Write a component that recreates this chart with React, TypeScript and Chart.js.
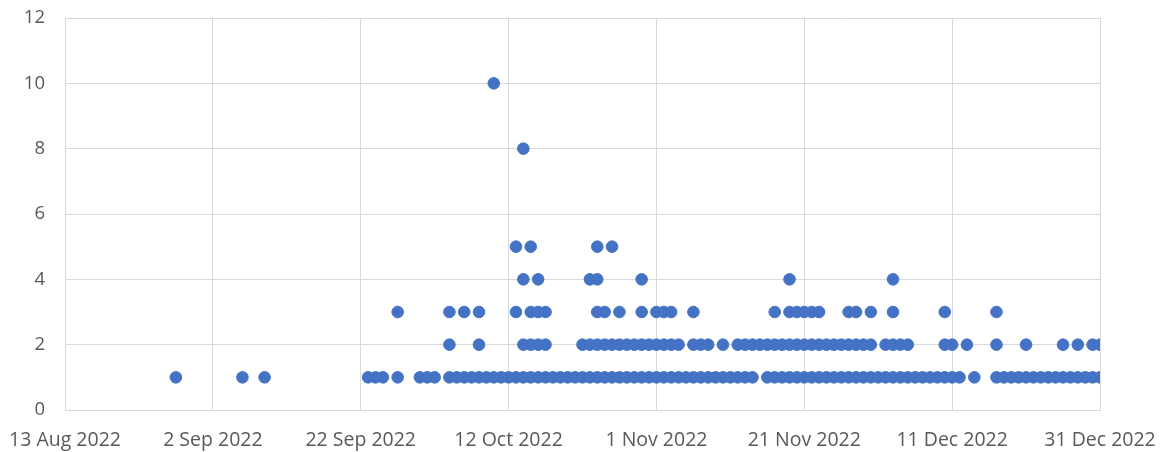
import React, { useEffect, useRef } from "react";
import { Chart, registerables } from "chart.js";

Chart.register(...registerables);

// Axis settings (dates)
const axisStart = "2022-08-13";
const axisEnd = "2022-12-31";
const xTickStepDays = 20;
const yMin = 0;
const yMax = 12;
const yStep = 2;
const monthNames = ["Jan", "Feb", "Mar", "Apr", "May", "Jun", "Jul", "Aug", "Sep", "Oct", "Nov", "Dec"];

// Dates that have a point at each value
const datesValue1 = [
  "2022-08-28", "2022-09-06", "2022-09-09", "2022-09-23", "2022-09-24", "2022-09-25", "2022-09-27",
  "2022-09-30", "2022-10-01", "2022-10-02",
  "2022-10-04", "2022-10-05", "2022-10-06", "2022-10-07", "2022-10-08", "2022-10-09", "2022-10-10",
  "2022-10-11", "2022-10-12", "2022-10-13", "2022-10-14", "2022-10-15", "2022-10-16", "2022-10-17",
  "2022-10-18", "2022-10-19", "2022-10-20", "2022-10-21", "2022-10-22", "2022-10-23", "2022-10-24",
  "2022-10-25", "2022-10-26", "2022-10-27", "2022-10-28", "2022-10-29", "2022-10-30", "2022-10-31",
  "2022-11-01", "2022-11-02", "2022-11-03", "2022-11-04", "2022-11-05", "2022-11-06", "2022-11-07",
  "2022-11-08", "2022-11-09", "2022-11-10", "2022-11-11", "2022-11-12", "2022-11-13", "2022-11-14",
  "2022-11-16", "2022-11-17", "2022-11-18", "2022-11-19", "2022-11-20", "2022-11-21", "2022-11-22",
  "2022-11-23", "2022-11-24", "2022-11-25", "2022-11-26", "2022-11-27", "2022-11-28", "2022-11-29",
  "2022-11-30", "2022-12-01", "2022-12-02", "2022-12-03", "2022-12-04", "2022-12-05", "2022-12-06",
  "2022-12-07", "2022-12-08", "2022-12-09", "2022-12-10", "2022-12-11", "2022-12-12", "2022-12-14",
  "2022-12-17", "2022-12-18", "2022-12-19", "2022-12-20", "2022-12-21", "2022-12-22", "2022-12-23",
  "2022-12-24", "2022-12-25", "2022-12-26", "2022-12-27", "2022-12-28", "2022-12-29", "2022-12-30",
  "2022-12-31",
];

const datesValue2 = [
  "2022-10-04", "2022-10-08", "2022-10-14", "2022-10-15", "2022-10-16", "2022-10-17",
  "2022-10-22", "2022-10-23", "2022-10-24", "2022-10-25", "2022-10-26", "2022-10-27", "2022-10-28",
  "2022-10-29", "2022-10-30", "2022-10-31", "2022-11-01", "2022-11-02", "2022-11-03", "2022-11-04",
  "2022-11-06", "2022-11-07", "2022-11-08", "2022-11-10",
  "2022-11-12", "2022-11-13", "2022-11-14", "2022-11-15", "2022-11-16", "2022-11-17", "2022-11-18",
  "2022-11-19", "2022-11-20", "2022-11-21", "2022-11-22", "2022-11-23", "2022-11-24", "2022-11-25",
  "2022-11-26", "2022-11-27", "2022-11-28", "2022-11-29", "2022-11-30",
  "2022-12-02", "2022-12-03", "2022-12-04", "2022-12-05", "2022-12-10", "2022-12-11", "2022-12-13",
  "2022-12-17", "2022-12-21", "2022-12-26", "2022-12-28", "2022-12-30", "2022-12-31",
];

const datesValue3 = [
  "2022-09-27", "2022-10-04", "2022-10-06", "2022-10-08", "2022-10-13", "2022-10-15", "2022-10-16",
  "2022-10-17", "2022-10-24", "2022-10-25", "2022-10-27", "2022-10-30", "2022-11-01", "2022-11-02",
  "2022-11-03", "2022-11-06", "2022-11-17", "2022-11-19", "2022-11-20", "2022-11-21", "2022-11-22",
  "2022-11-23", "2022-11-27", "2022-11-28", "2022-11-30", "2022-12-03", "2022-12-10", "2022-12-17",
];

const datesValue4 = ["2022-10-14", "2022-10-16", "2022-10-23", "2022-10-24", "2022-10-30", "2022-11-19", "2022-12-03"];
const datesValue5 = ["2022-10-13", "2022-10-15", "2022-10-24", "2022-10-26"];
const datesValue8 = ["2022-10-14"];
const datesValue10 = ["2022-10-10"];

const seriesByValue: [number, string[]][] = [
  [1, datesValue1],
  [2, datesValue2],
  [3, datesValue3],
  [4, datesValue4],
  [5, datesValue5],
  [8, datesValue8],
  [10, datesValue10],
];

const DAY = 86400000;
const startMs = Date.parse(axisStart + "T00:00:00Z");
const toDay = (iso: string) => Math.round((Date.parse(iso + "T00:00:00Z") - startMs) / DAY);

const formatDay = (d: number) => {
  const dt = new Date(startMs + d * DAY);
  return `${dt.getUTCDate()} ${monthNames[dt.getUTCMonth()]} ${dt.getUTCFullYear()}`;
};

const FONT = "'Open Sans', 'Noto Sans', 'DejaVu Sans', sans-serif";
const GRID = "#d9d9d9";
const LABEL = "#595959";
const POINT = "#4472C4";

const clearPadding = (s: any) => {
  s.paddingTop = 0;
  s.paddingBottom = 0;
  s.paddingLeft = 0;
  s.paddingRight = 0;
};

export default function App() {
  const ref = useRef<HTMLCanvasElement | null>(null);

  useEffect(() => {
    if (!ref.current) return;
    const points: { x: number; y: number }[] = [];
    for (const [v, dates] of seriesByValue) {
      for (const d of dates) points.push({ x: toDay(d), y: v });
    }
    const chart = new Chart(ref.current, {
      type: "scatter",
      data: {
        datasets: [
          {
            data: points,
            backgroundColor: POINT,
            borderColor: POINT,
            borderWidth: 1,
            pointRadius: 5.8,
          },
        ],
      },
      options: {
        responsive: false,
        animation: false,
        layout: { autoPadding: false, padding: { left: 0, right: 65, top: 18, bottom: 0 } },
        plugins: { legend: { display: false }, tooltip: { enabled: false } },
        scales: {
          x: {
            type: "linear",
            min: 0,
            max: toDay(axisEnd),
            afterFit: (s: any) => {
              s.height = 42;
              clearPadding(s);
            },
            ticks: {
              stepSize: xTickStepDays,
              callback: (v: any) => formatDay(Number(v)),
              color: LABEL,
              font: { family: FONT, size: 19.5 },
              padding: 19,
              maxRotation: 0,
              autoSkip: false,
            },
            grid: { color: GRID, lineWidth: 1, drawTicks: false },
            border: { color: GRID },
          },
          y: {
            min: yMin,
            max: yMax,
            afterFit: (s: any) => {
              s.width = 65;
              clearPadding(s);
            },
            ticks: {
              stepSize: yStep,
              color: LABEL,
              font: { family: FONT, size: 18.5 },
              padding: 20,
            },
            grid: { color: GRID, lineWidth: 1, drawTicks: false },
            border: { color: GRID },
          },
        },
      },
    });
    return () => chart.destroy();
  }, []);

  return (
    <div style={{ position: "fixed", left: 0, top: 0, width: 1165, height: 452, background: "#fff" }}>
      <canvas ref={ref} width={1165} height={452} />
    </div>
  );
}
